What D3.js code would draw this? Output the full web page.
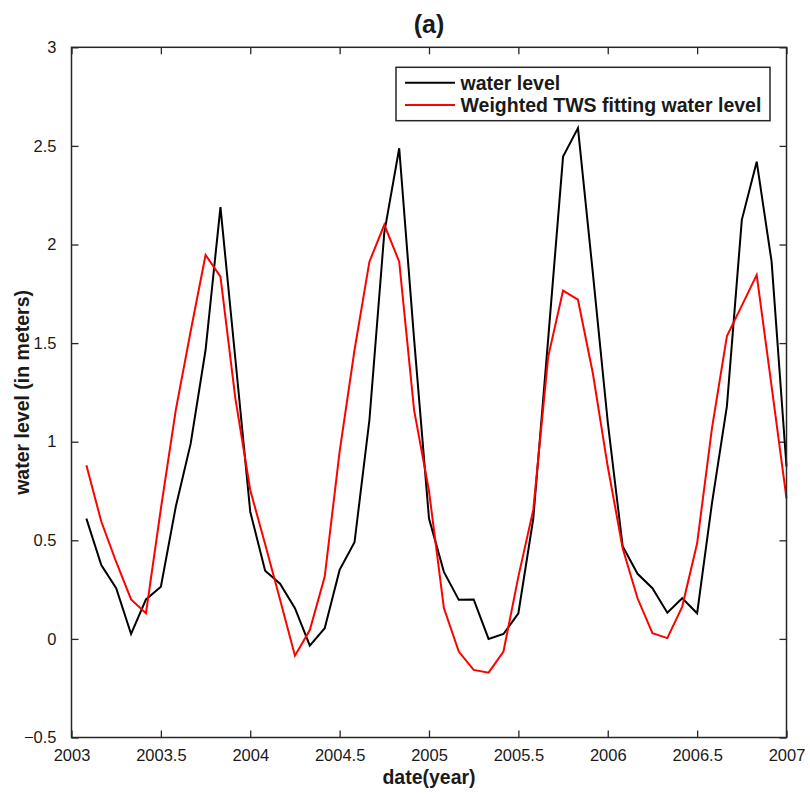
<!DOCTYPE html>
<meta charset="utf-8">
<style>
body { margin: 0; background: #fff; }
text { font-family: "Liberation Sans", Arial, sans-serif; fill: #1a1a1a; }
.axis path { display: none; }
.axis line { stroke: #262626; stroke-width: 1.3; }
.axis text { font-size: 16.5px; }
.frame { fill: none; stroke: #262626; stroke-width: 1.5; }
.line { fill: none; stroke-width: 2; stroke-linejoin: miter; }
</style>
<body></body>
<script src="https://cdn.jsdelivr.net/npm/d3@7"></script>
<script>

// monthly samples, x = 2003 + month/12
var months = d3.range(1, 49);

var waterLevel = [
  0.61, 0.375, 0.257, 0.025, 0.20, 0.265, 0.67, 0.99, 1.465, 2.19, 1.42, 0.645,
  0.346, 0.28, 0.156, -0.034, 0.054, 0.35, 0.49, 1.11, 2.06, 2.488, 1.52, 0.61,
  0.34, 0.198, 0.20, 0.0, 0.025, 0.13, 0.61, 1.52, 2.446, 2.59, 1.855, 1.10,
  0.47, 0.33, 0.257, 0.133, 0.206, 0.13, 0.69, 1.18, 2.125, 2.42, 1.913, 0.874
];

var fittedLevel = [
  0.88, 0.595, 0.39, 0.20, 0.13, 0.66, 1.16, 1.56, 1.947, 1.837, 1.22, 0.755,
  0.48, 0.20, -0.085, 0.045, 0.316, 0.95, 1.465, 1.913, 2.10, 1.913, 1.16, 0.75,
  0.156, -0.064, -0.157, -0.171, -0.064, 0.316, 0.654, 1.43, 1.766, 1.72, 1.347, 0.874,
  0.46, 0.206, 0.029, 0.004, 0.164, 0.485, 1.07, 1.536, 1.69, 1.846, 1.28, 0.713
];

var xTicks = [2003, 2003.5, 2004, 2004.5, 2005, 2005.5, 2006, 2006.5, 2007];
var yTicks = [-0.5, 0, 0.5, 1, 1.5, 2, 2.5, 3];
var seriesNames = ["water level", "Weighted TWS fitting water level"];
var seriesColors = ["#000000", "#ff0000"];

var margin = {top: 47.3, right: 23.5, bottom: 58.5, left: 71.5}
  , width = 810 - margin.left - margin.right
  , height = 796 - margin.top - margin.bottom;

var svg = d3.select("body").append("svg")
    .attr("width", 810)
    .attr("height", 796)
  .append("g")
    .attr("transform", "translate(" + margin.left + "," + margin.top + ")");

var x = d3.scaleLinear().domain([2003, 2007]).range([0, width]);
var y = d3.scaleLinear().domain([-0.5, 3]).range([height, 0]);

// axes, ticks pointing inward
svg.append("g")
    .attr("class", "axis")
    .attr("transform", "translate(0," + height + ")")
    .call(d3.axisBottom(x).tickValues(xTicks).tickFormat(d3.format("")).tickSizeInner(-7).tickSizeOuter(0).tickPadding(12));

svg.append("g")
    .attr("class", "axis")
    .call(d3.axisTop(x).tickValues(xTicks).tickFormat("").tickSizeInner(-7).tickSizeOuter(0));

svg.append("g")
    .attr("class", "axis")
    .call(d3.axisLeft(y).tickValues(yTicks).tickFormat(d3.format("")).tickSizeInner(-7).tickSizeOuter(0).tickPadding(15));

svg.append("g")
    .attr("class", "axis")
    .attr("transform", "translate(" + width + ",0)")
    .call(d3.axisRight(y).tickValues(yTicks).tickFormat("").tickSizeInner(-7).tickSizeOuter(0));

var line = d3.line()
    .x(function(d) { return x(2003 + d[0] / 12); })
    .y(function(d) { return y(d[1]); });

[waterLevel, fittedLevel].forEach(function(s, i) {
  svg.append("path")
      .datum(months.map(function(m, j) { return [m, s[j]]; }))
      .attr("class", "line")
      .attr("stroke", seriesColors[i])
      .attr("d", line);
});

svg.append("rect")
    .attr("class", "frame")
    .attr("width", width)
    .attr("height", height);

// title and axis labels
svg.append("text")
    .attr("x", width / 2)
    .attr("y", -14)
    .attr("text-anchor", "middle")
    .attr("font-size", "25px")
    .attr("font-weight", "bold")
    .text("(a)");

svg.append("text")
    .attr("x", width / 2)
    .attr("y", height + 47)
    .attr("text-anchor", "middle")
    .attr("font-size", "19.5px")
    .attr("font-weight", "bold")
    .text("date(year)");

svg.append("text")
    .attr("transform", "translate(-43," + (height / 2) + ") rotate(-90)")
    .attr("text-anchor", "middle")
    .attr("font-size", "19.5px")
    .attr("font-weight", "bold")
    .text("water level (in meters)");

// legend
var legend = svg.append("g")
    .attr("transform", "translate(" + (396 - margin.left) + "," + (67.3 - margin.top) + ")");

legend.append("rect")
    .attr("width", 374)
    .attr("height", 53.4)
    .attr("fill", "#fff")
    .attr("stroke", "#262626")
    .attr("stroke-width", 1.5);

seriesNames.forEach(function(name, i) {
  var ly = 15.4 + i * 22.3;
  legend.append("line")
      .attr("x1", 9).attr("x2", 59)
      .attr("y1", ly).attr("y2", ly)
      .attr("stroke", seriesColors[i])
      .attr("stroke-width", 2);
  legend.append("text")
      .attr("x", 64.5)
      .attr("y", ly + 7)
      .attr("font-size", "19.5px")
      .attr("font-weight", "bold")
      .attr("fill", "#000")
      .text(name);
});

</script>
